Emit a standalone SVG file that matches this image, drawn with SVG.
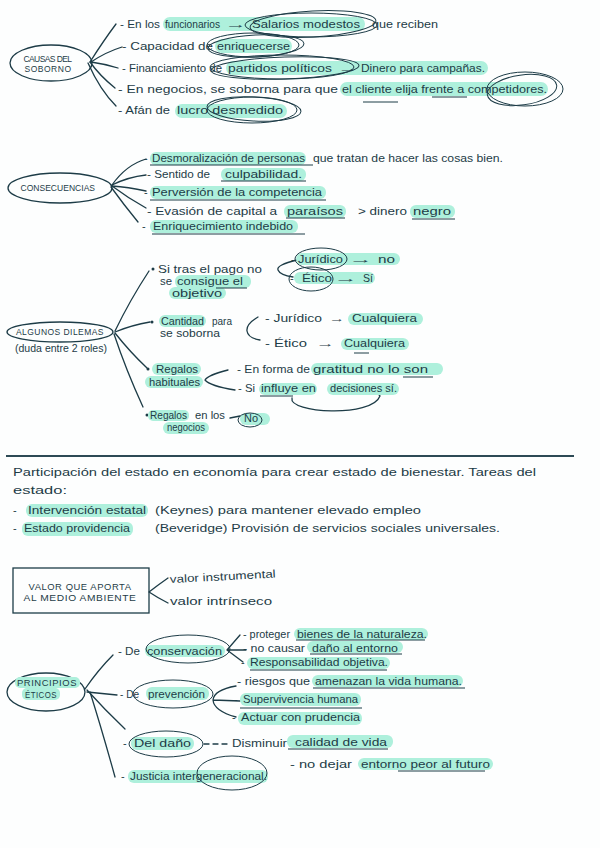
<svg xmlns="http://www.w3.org/2000/svg" width="600" height="848" viewBox="0 0 600 848">
<style>
.t{font-family:"Liberation Sans","DejaVu Sans",sans-serif;font-size:11px;fill:#1d3c47}
.s{font-family:"Liberation Sans","DejaVu Sans",sans-serif;font-size:8.5px;fill:#1d3c47;letter-spacing:0.5px}
.h{fill:#aef0dc}
.l{fill:none;stroke:#1d3c47;stroke-width:1.3;stroke-linecap:round;stroke-linejoin:round}
.u{fill:none;stroke:#1d3c47;stroke-width:1}
.c{fill:none;stroke:#1d3c47;stroke-width:1}
</style>
<rect width="600" height="848" fill="#fdfefe"/>

<g id="connectors">
<path class="l" d="M90,62 Q104,40 116,24"/>
<path class="l" d="M91,62 Q106,52 122,47"/>
<path class="l" d="M91,62 Q105,64 118,68"/>
<path class="l" d="M90,62 Q100,76 115,88"/>
<path class="l" d="M88,63 Q100,90 116,106"/>
<path class="l" d="M112,185 Q126,165 146,159"/>
<path class="l" d="M112,185 Q128,177 146,175"/>
<path class="l" d="M112,186 Q128,187 146,191"/>
<path class="l" d="M112,186 Q128,198 146,208"/>
<path class="l" d="M111,187 Q124,205 138,222"/>
<path class="l" d="M115,331 Q130,300 149,271"/>
<path class="l" d="M115,332 Q132,325 150,322"/>
<path class="l" d="M115,333 Q130,352 147,368"/>
<path class="l" d="M114,334 Q126,370 143,407"/>
<path class="l" d="M297,260 Q276,265 278,270 Q280,275 293,277"/>
<path class="l" d="M258,317 Q246,324 247,331 Q248,338 260,340"/>
<path class="l" d="M228,370 Q208,375 205,380 Q210,386 235,390"/>
<path class="l" d="M292,398 C288,413 372,418 380,396 M380,396 L376,391"/>
<path class="l" d="M230,418 L240,416"/>
<path class="l" d="M168,578 Q158,585 149,592 Q158,598 168,603"/>
<path class="l" d="M85,689 Q98,670 113,655"/>
<path class="l" d="M87,692 L117,695"/>
<path class="l" d="M87,690 Q105,710 125,729"/>
<path class="l" d="M90,692 Q102,730 115,777"/>
<path class="l" d="M227,650 L240,635 M227,650 L246,650 M227,650 L243,662"/>
<path class="l" d="M236,686 Q214,690 213,700 Q214,711 236,717 M213,700 L240,701"/>
<path class="l" d="M204,744 L229,744" stroke-dasharray="5 4"/>
</g>

<g id="causas">
<ellipse class="l" cx="51" cy="63" rx="41" ry="18"/>
<text class="s" x="48" y="62" text-anchor="middle" textLength="49">CAUSAS DEL</text>
<text class="s" x="48" y="72" text-anchor="middle" textLength="47">SOBORNO</text>
</g>
<g id="causa1">
<rect class="h" x="163" y="17" width="202" height="14" rx="7"/>
<text class="t" x="120" y="28" textLength="40" lengthAdjust="spacingAndGlyphs">- En los</text>
<text class="t" x="165" y="28" textLength="55" lengthAdjust="spacingAndGlyphs">funcionarios</text>
<text class="t" x="225" y="28" textLength="22" lengthAdjust="spacingAndGlyphs">→</text>
<text class="t" x="252" y="28" textLength="108" lengthAdjust="spacingAndGlyphs">Salarios modestos</text>
<text class="t" x="372" y="28" textLength="66" lengthAdjust="spacingAndGlyphs">que reciben</text>
<ellipse class="c" cx="311" cy="25" rx="66" ry="12"/>
<ellipse class="c" cx="313" cy="24" rx="63" ry="13" transform="rotate(-3 313 24)"/>
</g>
<g id="causa2">
<rect class="h" x="215" y="39" width="77" height="14" rx="7"/>
<text class="t" x="122" y="50" textLength="91" lengthAdjust="spacingAndGlyphs">- Capacidad de</text>
<text class="t" x="217" y="50" textLength="73" lengthAdjust="spacingAndGlyphs">enriquecerse</text>
<ellipse class="c" cx="253" cy="45" rx="46" ry="12"/>
<ellipse class="c" cx="256" cy="46" rx="48" ry="11" transform="rotate(-3 256 46)"/>
</g>
<g id="causa3">
<rect class="h" x="226" y="61" width="262" height="14" rx="7"/>
<text class="t" x="122" y="72" textLength="100" lengthAdjust="spacingAndGlyphs">- Financiamiento de</text>
<text class="t" x="228" y="72" textLength="104" lengthAdjust="spacingAndGlyphs">partidos políticos</text>
<text class="t" x="338" y="72" textLength="20" lengthAdjust="spacingAndGlyphs">→</text>
<text class="t" x="361" y="72" textLength="124" lengthAdjust="spacingAndGlyphs">Dinero para campañas.</text>
<ellipse class="c" cx="282" cy="67" rx="72" ry="12"/>
<ellipse class="c" cx="285" cy="68" rx="74" ry="11" transform="rotate(-2 285 68)"/>
</g>
<g id="causa4">
<rect class="h" x="340" y="82" width="208" height="14" rx="7"/>
<text class="t" x="118" y="93" textLength="220" lengthAdjust="spacingAndGlyphs">- En negocios, se soborna para que</text>
<text class="t" x="342" y="93" textLength="205" lengthAdjust="spacingAndGlyphs">el cliente elija frente a competidores.</text>
<path class="u" d="M363,102 L398,102 M432,97 L467,97"/>
<ellipse class="c" cx="525" cy="89" rx="38" ry="17"/>
<ellipse class="c" cx="522" cy="90" rx="35" ry="15" transform="rotate(-8 522 90)"/>
</g>
<g id="causa5">
<rect class="h" x="175" y="104" width="112" height="14" rx="7"/>
<text class="t" x="118" y="114" textLength="52" lengthAdjust="spacingAndGlyphs">- Afán de</text>
<text class="t" x="177" y="114" textLength="106" lengthAdjust="spacingAndGlyphs">lucro desmedido</text>
<ellipse class="c" cx="252" cy="110" rx="45" ry="13"/>
<ellipse class="c" cx="254" cy="109" rx="47" ry="12" transform="rotate(3 254 109)"/>
</g>

<g id="consecuencias">
<ellipse class="l" cx="60" cy="188" rx="52" ry="15"/>
<text class="s" x="58" y="191" text-anchor="middle" textLength="75">CONSECUENCIAS</text>
</g>
<g id="cons1">
<rect class="h" x="150" y="152" width="156" height="13" rx="6"/>
<text class="t" x="144" y="162">-</text>
<text class="t" x="152" y="162" textLength="153" lengthAdjust="spacingAndGlyphs">Desmoralización de personas</text>
<text class="t" x="313" y="162" textLength="190" lengthAdjust="spacingAndGlyphs">que tratan de hacer las cosas bien.</text>
<path class="u" d="M150,165 L313,165"/>
</g>
<g id="cons2">
<rect class="h" x="221" y="168" width="85" height="13" rx="6"/>
<text class="t" x="147" y="178" textLength="63" lengthAdjust="spacingAndGlyphs">- Sentido de</text>
<text class="t" x="225" y="178" textLength="77" lengthAdjust="spacingAndGlyphs">culpabilidad.</text>
<path class="u" d="M221,181 L306,181"/>
</g>
<g id="cons3">
<rect class="h" x="150" y="186" width="176" height="13" rx="6"/>
<text class="t" x="144" y="196">-</text>
<text class="t" x="152" y="196" textLength="170" lengthAdjust="spacingAndGlyphs">Perversión de la competencia</text>
<path class="u" d="M150,200 L326,200"/>
</g>
<g id="cons4">
<rect class="h" x="284" y="205" width="62" height="13" rx="6"/>
<rect class="h" x="410" y="205" width="45" height="13" rx="6"/>
<text class="t" x="147" y="215" textLength="130" lengthAdjust="spacingAndGlyphs">- Evasión de capital a</text>
<text class="t" x="287" y="215" textLength="56" lengthAdjust="spacingAndGlyphs">paraísos</text>
<text class="t" x="358" y="215" textLength="49" lengthAdjust="spacingAndGlyphs">&gt; dinero</text>
<text class="t" x="413" y="215" textLength="38" lengthAdjust="spacingAndGlyphs">negro</text>
<path class="u" d="M286,218 L345,218 M412,219 L455,219"/>
</g>
<g id="cons5">
<rect class="h" x="150" y="220" width="148" height="13" rx="6"/>
<text class="t" x="142" y="230">-</text>
<text class="t" x="153" y="230" textLength="140" lengthAdjust="spacingAndGlyphs">Enriquecimiento indebido</text>
<path class="u" d="M152,234 L305,234"/>
</g>

<g id="dilemas">
<ellipse class="l" cx="60" cy="332" rx="53" ry="10"/>
<text class="s" x="60" y="335" text-anchor="middle" textLength="88">ALGUNOS DILEMAS</text>
<text class="t" x="15" y="352" font-size="9.5" textLength="92" lengthAdjust="spacingAndGlyphs">(duda entre 2 roles)</text>
</g>
<g id="dilema1">
<circle cx="153" cy="269" r="1.5" fill="#1d3c47"/>
<rect class="h" x="175" y="275" width="76" height="13" rx="6"/>
<rect class="h" x="169" y="287" width="57" height="12" rx="6"/>
<text class="t" x="158" y="273" textLength="104" lengthAdjust="spacingAndGlyphs">Si tras el pago no</text>
<text class="t" x="160" y="285" textLength="12" lengthAdjust="spacingAndGlyphs">se</text>
<text class="t" x="177" y="285" textLength="66" lengthAdjust="spacingAndGlyphs">consigue el</text>
<text class="t" x="172" y="297" textLength="50" lengthAdjust="spacingAndGlyphs">objetivo</text>
<path class="u" d="M216,288 L247,288"/>
</g>
<g id="dilema1-juridico">
<rect class="h" x="296" y="253" width="104" height="12" rx="6"/>
<text class="t" x="291" y="263">-</text>
<text class="t" x="298" y="263" textLength="45" lengthAdjust="spacingAndGlyphs">Jurídico</text>
<text class="t" x="349" y="263" textLength="24" lengthAdjust="spacingAndGlyphs">→</text>
<text class="t" x="378" y="263" textLength="17" lengthAdjust="spacingAndGlyphs">no</text>
<ellipse class="c" cx="321" cy="259" rx="26" ry="11"/>
</g>
<g id="dilema1-etico">
<rect class="h" x="294" y="272" width="81" height="12" rx="6"/>
<text class="t" x="290" y="282">-</text>
<text class="t" x="302" y="282" textLength="30" lengthAdjust="spacingAndGlyphs">Ético</text>
<text class="t" x="334" y="282" font-weight="bold" textLength="24" lengthAdjust="spacingAndGlyphs">→</text>
<text class="t" x="363" y="282" textLength="10" lengthAdjust="spacingAndGlyphs">Sí</text>
<ellipse class="c" cx="311" cy="279" rx="22" ry="12"/>
</g>
<g id="dilema2">
<circle cx="152" cy="322" r="1.5" fill="#1d3c47"/>
<rect class="h" x="159" y="315" width="47" height="12" rx="6"/>
<text class="t" x="161" y="325" textLength="43" lengthAdjust="spacingAndGlyphs">Cantidad</text>
<text class="t" x="212" y="325" textLength="20" lengthAdjust="spacingAndGlyphs">para</text>
<text class="t" x="160" y="337" textLength="60" lengthAdjust="spacingAndGlyphs">se soborna</text>
</g>
<g id="dilema2-juridico">
<rect class="h" x="348" y="313" width="75" height="12" rx="6"/>
<text class="t" x="265" y="322" textLength="57" lengthAdjust="spacingAndGlyphs">- Jurídico</text>
<text class="t" x="329" y="322" textLength="16" lengthAdjust="spacingAndGlyphs">→</text>
<text class="t" x="352" y="322" textLength="65" lengthAdjust="spacingAndGlyphs">Cualquiera</text>
</g>
<g id="dilema2-etico">
<rect class="h" x="341" y="338" width="68" height="12" rx="6"/>
<text class="t" x="265" y="347" textLength="42" lengthAdjust="spacingAndGlyphs">- Ético</text>
<text class="t" x="316" y="347" textLength="19" lengthAdjust="spacingAndGlyphs">→</text>
<text class="t" x="344" y="347" textLength="61" lengthAdjust="spacingAndGlyphs">Cualquiera</text>
<path class="u" d="M354,353 L369,353"/>
</g>
<g id="dilema3">
<circle cx="148" cy="369" r="1.5" fill="#1d3c47"/>
<rect class="h" x="152" y="363" width="49" height="12" rx="6"/>
<rect class="h" x="145" y="376" width="58" height="12" rx="6"/>
<text class="t" x="156" y="373" textLength="42" lengthAdjust="spacingAndGlyphs">Regalos</text>
<text class="t" x="149" y="386" textLength="51" lengthAdjust="spacingAndGlyphs">habituales</text>
</g>
<g id="dilema3-gratitud">
<rect class="h" x="311" y="363" width="132" height="12" rx="6"/>
<text class="t" x="237" y="373" textLength="73" lengthAdjust="spacingAndGlyphs">- En forma de</text>
<text class="t" x="313" y="373" textLength="115" lengthAdjust="spacingAndGlyphs">gratitud no lo son</text>
<path class="u" d="M403,377 L433,377"/>
</g>
<g id="dilema3-influye">
<rect class="h" x="259" y="383" width="58" height="12" rx="6"/>
<rect class="h" x="327" y="383" width="72" height="12" rx="6"/>
<text class="t" x="238" y="392" textLength="17" lengthAdjust="spacingAndGlyphs">- Si</text>
<text class="t" x="261" y="392" textLength="55" lengthAdjust="spacingAndGlyphs">influye en</text>
<text class="t" x="330" y="392" textLength="67" lengthAdjust="spacingAndGlyphs">decisiones sí.</text>
<path class="u" d="M260,396 L293,396"/>
</g>
<g id="dilema4">
<circle cx="147" cy="415" r="1.5" fill="#1d3c47"/>
<rect class="h" x="148" y="410" width="41" height="11" rx="5"/>
<rect class="h" x="163" y="422" width="46" height="12" rx="6"/>
<text class="t" x="150" y="419" textLength="37" lengthAdjust="spacingAndGlyphs">Regalos</text>
<text class="t" x="195" y="419" textLength="30" lengthAdjust="spacingAndGlyphs">en los</text>
<text class="t" x="167" y="431" textLength="38" lengthAdjust="spacingAndGlyphs">negocios</text>
</g>
<g id="dilema4-no">
<rect class="h" x="240" y="413" width="30" height="12" rx="6"/>
<text class="t" x="244" y="422" textLength="14" lengthAdjust="spacingAndGlyphs">No</text>
<ellipse class="c" cx="250" cy="420" rx="12" ry="7"/>
</g>

<path d="M6,456 L574,456" stroke="#2d4a55" stroke-width="2"/>

<g id="estado">
<text class="t" x="13" y="476" textLength="523" lengthAdjust="spacingAndGlyphs">Participación del estado en economía para crear estado de bienestar. Tareas del</text>
<text class="t" x="13" y="494" textLength="54" lengthAdjust="spacingAndGlyphs">estado:</text>
<rect class="h" x="26" y="504" width="122" height="13" rx="6"/>
<text class="t" x="13" y="514">-</text>
<text class="t" x="28" y="514" textLength="118" lengthAdjust="spacingAndGlyphs">Intervención estatal</text>
<text class="t" x="155" y="514" textLength="266" lengthAdjust="spacingAndGlyphs">(Keynes) para mantener elevado empleo</text>
<rect class="h" x="22" y="522" width="111" height="14" rx="6"/>
<text class="t" x="13" y="532">-</text>
<text class="t" x="24" y="532" textLength="106" lengthAdjust="spacingAndGlyphs">Estado providencia</text>
<text class="t" x="155" y="532" textLength="345" lengthAdjust="spacingAndGlyphs">(Beveridge) Provisión de servicios sociales universales.</text>
</g>

<g id="valor">
<rect x="13" y="568" width="136" height="45" fill="none" stroke="#1d3c47" stroke-width="1.3"/>
<text class="s" x="80" y="590" text-anchor="middle" textLength="103" lengthAdjust="spacingAndGlyphs">VALOR QUE APORTA</text>
<text class="s" x="80" y="601" text-anchor="middle" textLength="113" lengthAdjust="spacingAndGlyphs">AL MEDIO AMBIENTE</text>
</g>
<g id="valor-instrumental">
<text class="t" x="170" y="583" textLength="106" lengthAdjust="spacingAndGlyphs" transform="rotate(-3 170 583)">valor instrumental</text>
</g>
<g id="valor-intrinseco">
<text class="t" x="170" y="605" textLength="102" lengthAdjust="spacingAndGlyphs">valor intrínseco</text>
</g>

<g id="principios">
<ellipse class="l" cx="46" cy="692" rx="39" ry="19"/>
<rect class="h" x="15" y="677" width="65" height="11" rx="5"/>
<rect class="h" x="22" y="688" width="38" height="12" rx="5"/>
<text class="s" x="47" y="686" text-anchor="middle" textLength="60" lengthAdjust="spacingAndGlyphs">PRINCIPIOS</text>
<text class="s" x="41" y="698" text-anchor="middle" textLength="32" lengthAdjust="spacingAndGlyphs">ÉTICOS</text>
</g>
<g id="conservacion">
<rect class="h" x="145" y="645" width="80" height="12" rx="6"/>
<text class="t" x="118" y="655" textLength="22" lengthAdjust="spacingAndGlyphs">- De</text>
<text class="t" x="147" y="655" textLength="75" lengthAdjust="spacingAndGlyphs">conservación</text>
<ellipse class="c" cx="188" cy="649" rx="42" ry="14"/>
</g>
<g id="conservacion-1">
<rect class="h" x="294" y="628" width="134" height="12" rx="6"/>
<text class="t" x="243" y="638" textLength="47" lengthAdjust="spacingAndGlyphs">- proteger</text>
<text class="t" x="297" y="638" textLength="130" lengthAdjust="spacingAndGlyphs">bienes de la naturaleza.</text>
<path class="u" d="M296,640 L425,640"/>
</g>
<g id="conservacion-2">
<rect class="h" x="307" y="641" width="96" height="12" rx="6"/>
<text class="t" x="243" y="652" textLength="62" lengthAdjust="spacingAndGlyphs">- no causar</text>
<text class="t" x="312" y="652" textLength="86" lengthAdjust="spacingAndGlyphs">daño al entorno</text>
<path class="u" d="M310,654 L402,654"/>
</g>
<g id="conservacion-3">
<rect class="h" x="247" y="657" width="143" height="12" rx="6"/>
<text class="t" x="241" y="666">-</text>
<text class="t" x="250" y="666" textLength="138" lengthAdjust="spacingAndGlyphs">Responsabilidad objetiva.</text>
<path class="u" d="M250,670 L387,670"/>
</g>
<g id="prevencion">
<rect class="h" x="146" y="687" width="63" height="13" rx="6"/>
<text class="t" x="120" y="698" textLength="19" lengthAdjust="spacingAndGlyphs">- De</text>
<text class="t" x="148" y="698" textLength="57" lengthAdjust="spacingAndGlyphs">prevención</text>
<ellipse class="c" cx="173" cy="694" rx="40" ry="14"/>
</g>
<g id="prevencion-1">
<rect class="h" x="312" y="675" width="151" height="12" rx="6"/>
<text class="t" x="237" y="685" textLength="73" lengthAdjust="spacingAndGlyphs">- riesgos que</text>
<text class="t" x="315" y="685" textLength="147" lengthAdjust="spacingAndGlyphs">amenazan la vida humana.</text>
<path class="u" d="M313,688 L465,688"/>
</g>
<g id="prevencion-2">
<rect class="h" x="240" y="693" width="121" height="13" rx="6"/>
<text class="t" x="234" y="703">-</text>
<text class="t" x="243" y="703" textLength="115" lengthAdjust="spacingAndGlyphs">Supervivencia humana</text>
<path class="u" d="M240,708 L362,708"/>
</g>
<g id="prevencion-3">
<rect class="h" x="238" y="712" width="124" height="13" rx="6"/>
<text class="t" x="232" y="721">-</text>
<text class="t" x="241" y="721" textLength="119" lengthAdjust="spacingAndGlyphs">Actuar con prudencia</text>
</g>
<g id="dano">
<rect class="h" x="131" y="737" width="63" height="13" rx="6"/>
<text class="t" x="123" y="747">-</text>
<text class="t" x="134" y="747" textLength="57" lengthAdjust="spacingAndGlyphs">Del daño</text>
<ellipse class="c" cx="166" cy="744" rx="37" ry="13"/>
</g>
<g id="dano-1">
<rect class="h" x="287" y="735" width="106" height="13" rx="6"/>
<text class="t" x="232" y="747" textLength="55" lengthAdjust="spacingAndGlyphs">Disminuir</text>
<text class="t" x="295" y="746" textLength="92" lengthAdjust="spacingAndGlyphs">calidad de vida</text>
<path class="u" d="M288,749 L388,749"/>
</g>
<g id="justicia">
<rect class="h" x="128" y="770" width="140" height="13" rx="6"/>
<text class="t" x="121" y="780">-</text>
<text class="t" x="130" y="780" textLength="137" lengthAdjust="spacingAndGlyphs">Justicia intergeneracional.</text>
<ellipse class="c" cx="232" cy="773" rx="35" ry="17"/>
</g>
<g id="justicia-1">
<rect class="h" x="358" y="758" width="135" height="12" rx="6"/>
<text class="t" x="290" y="768" textLength="62" lengthAdjust="spacingAndGlyphs">- no dejar</text>
<text class="t" x="361" y="768" textLength="129" lengthAdjust="spacingAndGlyphs">entorno peor al futuro</text>
<path class="u" d="M398,771 L485,771"/>
</g>
</svg>
